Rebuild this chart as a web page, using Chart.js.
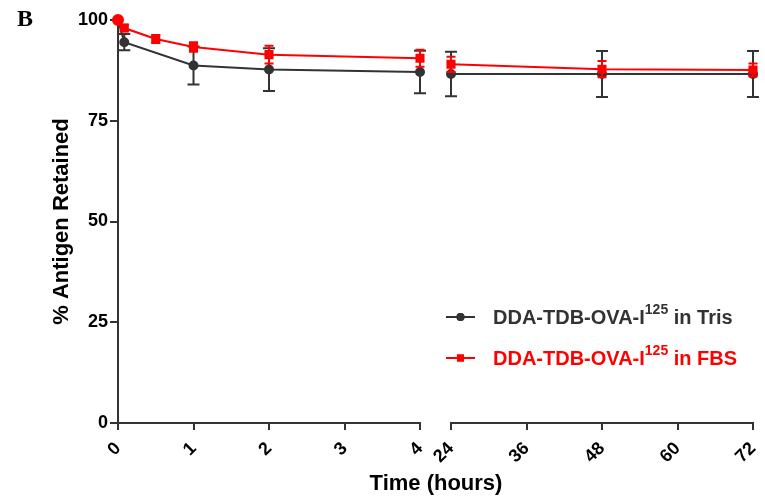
<!DOCTYPE html>
<html>
<head>
<meta charset="utf-8">
<script src="https://cdn.jsdelivr.net/npm/chart.js@4.4.1/dist/chart.umd.min.js"></script>
<style>
  html, body { margin: 0; padding: 0; background: #fff; }
  #wrap { position: relative; width: 765px; height: 497px; }
  #wrap canvas { position: absolute; left: 0; top: 0; }
</style>
</head>
<body>
<div id="wrap">
  <canvas id="early" width="765" height="497"></canvas>
  <canvas id="late" width="765" height="497"></canvas>
</div>
<script>
// time points (hours) and % antigen retained, mean and SD
const trisTimes = [0, 0.083, 1, 2, 4, 24, 48, 72];
const trisMean  = [100, 94.5, 88.7, 87.7, 87.1, 86.6, 86.6, 86.6];
const trisSD    = [0, 2.0, 4.7, 5.3, 5.3, 5.5, 5.7, 5.7];

const fbsTimes = [0, 0.083, 0.5, 1, 2, 4, 24, 48, 72];
const fbsMean  = [100, 98.0, 95.3, 93.3, 91.4, 90.5, 89.0, 87.8, 87.6];
const fbsSD    = [0, 0.8, 1.0, 1.2, 2.2, 2.1, 1.9, 2.0, 1.6];

const yTicks = [0, 25, 50, 75, 100];
const earlyTicks = [0, 1, 2, 3, 4];
const lateTicks = [24, 36, 48, 60, 72];

const BLACK = '#333333';
const RED = '#ff0000';
const FONT = "'Liberation Sans', Arial, sans-serif";

// split a series into the part before / after the axis break
function part(times, mean, sd, from, to) {
  const pts = [], err = [];
  times.forEach((t, i) => {
    if (t >= from && t <= to) { pts.push({ x: t, y: mean[i] }); err.push(sd[i]); }
  });
  return { pts, err };
}

function makeDatasets(from, to) {
  const tris = part(trisTimes, trisMean, trisSD, from, to);
  const fbs = part(fbsTimes, fbsMean, fbsSD, from, to);
  return [
    {
      label: 'DDA-TDB-OVA-I125 in Tris',
      data: tris.pts, sd: tris.err, capW: 12,
      borderColor: BLACK, backgroundColor: BLACK,
      borderWidth: 2, pointRadius: 4, pointStyle: 'circle',
      clip: false, order: 2
    },
    {
      label: 'DDA-TDB-OVA-I125 in FBS',
      data: fbs.pts, sd: fbs.err, capW: 9,
      borderColor: RED, backgroundColor: RED,
      borderWidth: 2, pointRadius: 5,
      pointStyle: fbs.pts.map(p => p.x === 0 ? 'circle' : 'rect'),
      clip: false, order: 1
    }
  ];
}

// vertical error bars with caps, drawn through the y scale
const errorBars = {
  id: 'errorBars',
  afterDatasetDraw(chart, args) {
    const ds = chart.data.datasets[args.index];
    const y = chart.scales.y;
    const ctx = chart.ctx;
    ctx.save();
    ctx.strokeStyle = ds.borderColor;
    ctx.lineWidth = 2;
    args.meta.data.forEach((pt, i) => {
      const sd = ds.sd[i];
      if (!sd) return;
      const v = ds.data[i].y;
      const top = y.getPixelForValue(v + sd);
      const bot = y.getPixelForValue(v - sd);
      const h = ds.capW / 2;
      ctx.beginPath();
      ctx.moveTo(pt.x, top); ctx.lineTo(pt.x, bot);
      ctx.moveTo(pt.x - h, top); ctx.lineTo(pt.x + h, top);
      ctx.moveTo(pt.x - h, bot); ctx.lineTo(pt.x + h, bot);
      ctx.stroke();
    });
    ctx.restore();
  }
};

function drawLabel(ctx, x, y, color, base, sup, rest) {
  ctx.fillStyle = color;
  ctx.textBaseline = 'middle';
  ctx.textAlign = 'left';
  ctx.font = 'bold 20px ' + FONT;
  ctx.fillText(base, x, y);
  x += ctx.measureText(base).width;
  ctx.font = 'bold 14px ' + FONT;
  ctx.fillText(sup, x, y - 8);
  x += ctx.measureText(sup).width;
  ctx.font = 'bold 20px ' + FONT;
  ctx.fillText(rest, x, y);
}

// panel letter, shared x title and legend
const decorations = {
  id: 'decorations',
  afterDraw(chart) {
    const ctx = chart.ctx;
    ctx.save();
    ctx.fillStyle = '#000';
    ctx.font = "bold 24px 'Liberation Serif', 'Times New Roman', serif";
    ctx.textBaseline = 'top';
    ctx.fillText('B', 17, 8);

    ctx.font = 'bold 22px ' + FONT;
    ctx.textAlign = 'center';
    ctx.textBaseline = 'middle';
    ctx.fillText('Time (hours)', 436, 484);

    const rows = [
      { y: 317, color: BLACK, rest: ' in Tris', style: 'circle', r: 4 },
      { y: 358, color: RED, rest: ' in FBS', style: 'rect', r: 5 }
    ];
    rows.forEach(row => {
      ctx.strokeStyle = row.color;
      ctx.lineWidth = 2;
      ctx.beginPath();
      ctx.moveTo(446, row.y); ctx.lineTo(475, row.y);
      ctx.stroke();
      ctx.fillStyle = row.color;
      Chart.helpers.drawPoint(ctx, { pointStyle: row.style, radius: row.r, rotation: 0, borderWidth: 0 }, 460.5, row.y);
      ctx.fill();
      drawLabel(ctx, 493, row.y + 1, row.color, 'DDA-TDB-OVA-I', '125', row.rest);
    });
    ctx.restore();
  }
};

const axisLine = { display: true, color: BLACK, width: 2 };
const tickFont = { family: FONT, size: 18, weight: 'bold' };

function xScale(min, max, step, ticks) {
  return {
    type: 'linear', min: min, max: max,
    afterBuildTicks: s => { s.ticks = ticks.map(v => ({ value: v })); },
    afterFit: s => { s.height = 74; s.paddingLeft = 0; s.paddingRight = 0; },
    border: axisLine,
    grid: { drawOnChartArea: false, drawTicks: true, tickLength: 7, color: BLACK, lineWidth: 2 },
    ticks: { color: '#000', font: tickFont, minRotation: 45, maxRotation: 45, padding: 8, stepSize: step }
  };
}

const common = {
  responsive: false,
  animation: false,
  plugins: { legend: { display: false }, tooltip: { enabled: false } },
  elements: { line: { tension: 0 } }
};

new Chart(document.getElementById('early'), {
  type: 'line',
  data: { datasets: makeDatasets(0, 4) },
  options: Object.assign({}, common, {
    layout: { padding: { left: 49, top: 20, right: 345, bottom: 0 } },
    scales: {
      x: xScale(0, 4, 1, earlyTicks),
      y: {
        min: 0, max: 100,
        afterBuildTicks: s => { s.ticks = yTicks.map(v => ({ value: v })); },
        afterFit: s => { s.width = 69; },
        border: axisLine,
        grid: { drawOnChartArea: false, drawTicks: true, tickLength: 8, color: BLACK, lineWidth: 2 },
        ticks: { color: '#000', font: tickFont, padding: 2 },
        title: { display: true, text: '% Antigen Retained', color: '#000',
                 font: { family: FONT, size: 22, weight: 'bold' }, padding: { top: 0, bottom: 4 } }
      }
    }
  }),
  plugins: [errorBars]
});

new Chart(document.getElementById('late'), {
  type: 'line',
  data: { datasets: makeDatasets(24, 72) },
  options: Object.assign({}, common, {
    layout: { padding: { left: 451, top: 20, right: 12, bottom: 0 } },
    scales: {
      x: xScale(24, 72, 12, lateTicks),
      y: { display: false, min: 0, max: 100 }
    }
  }),
  plugins: [errorBars, decorations]
});
</script>
</body>
</html>
